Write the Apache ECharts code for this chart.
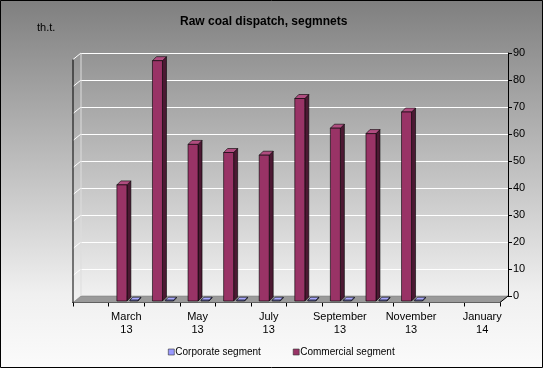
<!DOCTYPE html>
<html><head><meta charset="utf-8">
<script src="https://cdn.jsdelivr.net/npm/echarts@6/dist/echarts.min.js"></script>
<style>html,body{margin:0;padding:0;}#c{width:543px;height:368px;}</style>
</head><body><div id="c"></div>
<script>
const categories = ['February\n13','March\n13','April\n13','May\n13','June\n13','July\n13','August\n13','September\n13','October\n13','November\n13','December\n13','January\n14'];
const corporate = [null,0.1,0.1,0.1,0.1,0.1,0.1,0.1,0.1,0.1,null,null];
const commercial = [null,43,89,58,55,54,75,64,62,70,null,null];
const yTicks = [10,20,30,40,50,60,70,80,90];
const FONT = 'Liberation Sans, Arial, sans-serif';

function barRender(offsetX, width, depth, colors){
  return function(params, api){
    const i = api.value(0), v = api.value(1);
    const p = api.coord([i, v]);
    const b = api.coord([i, 0]);
    const x0 = p[0] + offsetX, x1 = x0 + width;
    let yTop = p[1] - 1.5, yBot = b[1] - 1.5;
    if (yBot - yTop < 0.8) yTop = yBot - 0.8;
    const d = depth;
    const st = {stroke:'#000', lineWidth:0.6};
    return {type:'group', children:[
      {type:'polygon', shape:{points:[[x1,yTop],[x1+d,yTop-d],[x1+d,yBot-d],[x1,yBot]]}, style:Object.assign({fill:colors[1]},st)},
      {type:'polygon', shape:{points:[[x0,yTop],[x0+d,yTop-d],[x1+d,yTop-d],[x1,yTop]]}, style:Object.assign({fill:colors[2]},st)},
      {type:'rect', shape:{x:x0,y:yTop,width:width,height:yBot-yTop}, style:Object.assign({fill:colors[0]},st)}
    ]};
  };
}

const chart = echarts.init(document.getElementById('c'));
chart.setOption({
  animation:false,
  backgroundColor:{type:'linear',x:0,y:0,x2:0,y2:1,colorStops:[{offset:0,color:'#7f7f7f'},{offset:0.8,color:'#f0f0f0'},{offset:1,color:'#fbfbfb'}]},
  title:{text:'Raw coal dispatch, segmnets', left:175, top:11, textStyle:{fontFamily:FONT,fontSize:12,fontWeight:'bold',color:'#000'}},
  legend:{left:163, top:342, itemWidth:6, itemHeight:6, itemGap:32, icon:'rect',
    textStyle:{fontFamily:FONT,fontSize:10,color:'#000',padding:[0,0,0,-4]},
    data:[{name:'Corporate segment',itemStyle:{color:'#9999ff',borderColor:'#333',borderWidth:0.6}},
          {name:'Commercial segment',itemStyle:{color:'#993366',borderColor:'#333',borderWidth:0.6}}]},
  graphic:[
    {type:'rect', z:-10, shape:{x:0.5,y:0.5,width:542,height:367}, style:{fill:'none',stroke:'#000',lineWidth:1}},
    {type:'text', left:37, top:22, style:{text:'th.t.', font:'11px '+FONT, fill:'#000'}},
    {type:'polygon', z:1, shape:{points:[[73,302.5],[500,302.5],[508,296],[81,296]]}, style:{fill:'#9a9a9a',stroke:'#777',lineWidth:0.5}},
    {type:'line', z:3, shape:{x1:73,y1:59.5,x2:73,y2:303}, style:{stroke:'#000',lineWidth:1}},
    {type:'line', z:3, shape:{x1:81,y1:53,x2:81,y2:296}, style:{stroke:'#ddd',lineWidth:1}},
    {type:'line', z:3, shape:{x1:508,y1:296,x2:500,y2:302.5}, style:{stroke:'#000',lineWidth:1}}
  ],
  grid:[
    {left:81, right:35, top:53, bottom:72},
    {left:73, right:43, top:59.5, bottom:65.5}
  ],
  xAxis:[
    {gridIndex:0, type:'category', data:categories, show:false},
    {gridIndex:1, type:'category', data:categories, boundaryGap:true,
      axisLine:{lineStyle:{color:'#000',width:1}},
      axisTick:{show:true, interval:0, length:4, lineStyle:{color:'#000'}},
      axisLabel:{interval:function(i){return i%2===1;}, fontFamily:FONT, fontSize:11, color:'#000', lineHeight:13, margin:8}}
  ],
  yAxis:[
    {gridIndex:0, type:'value', position:'right', min:0, max:90, interval:10,
      axisLine:{show:true, lineStyle:{color:'#000'}},
      axisTick:{show:true, length:4, lineStyle:{color:'#000'}},
      axisLabel:{fontFamily:FONT, fontSize:11, color:'#000', margin:5},
      splitLine:{show:true, lineStyle:{color:'#ffffff', width:1}}},
    {gridIndex:1, type:'value', min:0, max:90, interval:10, show:false, splitLine:{show:false}}
  ],
  series:[
    {type:'custom', name:'wall', xAxisIndex:0, yAxisIndex:0, z:2, silent:true,
      data:yTicks.map(v=>[0,v]),
      renderItem:function(params, api){
        const y = api.coord([0, api.value(1)])[1];
        const x = params.coordSys.x;
        return {type:'line', shape:{x1:x,y1:y,x2:x-8,y2:y+6.5}, style:{stroke:'#fff',lineWidth:1}};
      }},
    {type:'custom', name:'Corporate segment', xAxisIndex:1, yAxisIndex:1, z:5,
      data:corporate.map((v,i)=>v==null?null:[i,v]).filter(d=>d),
      itemStyle:{color:'#9999ff'},
      renderItem:barRender(3.5, 8, 3, ['#9999ff','#5c5c99','#aaaaff'])},
    {type:'custom', name:'Commercial segment', xAxisIndex:1, yAxisIndex:1, z:6,
      data:commercial.map((v,i)=>v==null?null:[i,v]).filter(d=>d),
      itemStyle:{color:'#993366'},
      renderItem:barRender(-9.5, 10, 4, ['#993366','#4c1933','#b04d80'])}
  ]
});
</script></body></html>
